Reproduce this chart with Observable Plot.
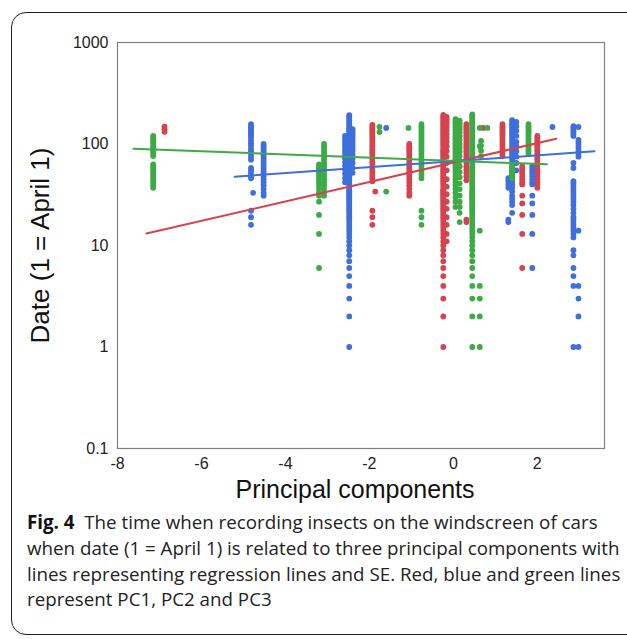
<!DOCTYPE html>
<html>
<head>
<meta charset="utf-8">
<script src="https://cdn.jsdelivr.net/npm/d3@7"></script>
<script src="https://cdn.jsdelivr.net/npm/@observablehq/plot@0.6"></script>
<style>
  html, body { margin: 0; padding: 0; background: #fff; }
  #page { position: relative; width: 627px; height: 639px; overflow: hidden; }
  #box { position: absolute; left: 11px; top: 12px; width: 700px; height: 623px;
         border: 1.5px solid #222; border-radius: 15px 0 0 15px; box-sizing: border-box; }
  #chart { position: absolute; left: 0; top: 0; }
  #caption { position: absolute; left: 27px; top: 509px; font-family: "Open Sans", "Noto Sans", sans-serif;
             font-size: 17px; line-height: 25.8px; color: #222; white-space: nowrap; }
  #caption span { display: inline-block; }
  #caption b { font-weight: 700; color: #111; }
</style>
</head>
<body>
<div id="page">
  <div id="box"></div>
  <div id="chart"></div>
  <div id="caption"><span id="cap1"><b>Fig. 4</b>&nbsp; The time when recording insects on the windscreen of cars</span><br>when date (1 = April 1) is related to three principal components with<br>lines representing regression lines and SE. Red, blue and green lines<br>represent PC1, PC2 and PC3</div>
</div>
<script>
// ---- series names & colours
const pcNames = ["PC1", "PC2", "PC3"];
const pcColors = ["#d6434f", "#3e6fdc", "#3dab45"];

// ---- axis ticks
const xTicks = [-8, -6, -4, -2, 0, 2];
const yTicks = [0.1, 1, 10, 100, 1000];

// ---- PC1 (red) strips: [principal component score, dates]
const pc1Strips = [
  [-6.88, [148, 140, 132]],
  [-1.93, [154, 148, 142, 136, 130, 124, 118, 112, 106, 100, 95, 90, 86, 82, 78, 74, 70, 66, 62, 58, 55, 52, 49, 46, 43, 22, 19, 16]],
  [-1.86, [34]],
  [-1.05, [100, 96, 92, 88, 84, 80, 76, 72, 68, 64, 60, 57, 54, 51, 48, 45, 42, 39, 36, 33, 31]],
  [-0.24, [193, 186, 179, 172, 166, 160, 154, 148, 142, 137, 132, 127, 122, 117, 112, 108, 104, 100, 96, 92, 88, 85, 82, 79, 76, 73, 70, 67, 64, 61, 58, 56, 54, 52, 50, 48, 46, 44, 42, 40, 38, 36, 35, 34, 33, 32, 31, 30, 29, 28, 27, 26, 25, 24, 23, 22, 21, 20, 19, 18, 17, 16, 15, 14, 13, 12, 11, 10, 9, 8, 7, 6, 5, 4, 3, 2, 1]],
  [-0.16, [185, 175, 165, 155, 145, 135, 125, 115, 105, 95, 85, 75, 65, 55, 45, 38, 32, 27, 23, 19, 16, 13, 11]],
  [0.31, [157, 150, 143, 136, 130, 124, 118, 112, 106, 100, 95, 90, 85, 80, 75, 70, 65, 60, 56, 52, 48, 44, 18, 17]],
  [0.71, [144]],
  [1.17, [157, 150, 143, 136, 130, 124, 118, 112, 106, 100, 95, 90, 85, 80, 76]],
  [1.64, [60, 57, 54, 51, 48, 45, 42, 40, 31, 26, 20, 13, 6]],
  [2.0, [120, 115, 110, 105, 100, 96, 92, 88, 84, 80, 76, 72, 68, 64, 60, 57, 54, 51, 48, 45, 42, 40, 37]]
];

// ---- PC2 (blue) strips
const pc2Strips = [
  [-4.82, [157, 151, 145, 139, 133, 127, 121, 115, 108, 102, 96, 90, 85, 80, 75, 70, 58, 55, 52, 49, 46, 22, 19, 16]],
  [-4.77, [33]],
  [-4.52, [100, 96, 92, 88, 84, 80, 76, 72, 68, 64, 60, 57, 54, 51, 48, 45, 42, 39, 36, 33, 31]],
  [-2.48, [192, 185, 178, 171, 165, 159, 153, 147, 141, 136, 131, 126, 121, 116, 111, 107, 103, 99, 95, 91, 87, 84, 81, 78, 75, 72, 69, 66, 63, 60, 57, 55, 53, 51, 49, 47, 45, 43, 41, 39, 37, 35, 34, 33, 32, 31, 30, 29, 28, 27, 26, 25, 24, 23, 22, 21, 20, 19, 18, 17, 16, 15, 14, 13, 12, 11, 10, 9, 8, 7, 6, 5, 4, 3, 2, 1]],
  [-2.58, [120, 112, 104, 97, 90, 84, 78, 72, 66, 61, 56, 51, 46, 42]],
  [-2.40, [140, 132, 124, 116, 108, 100, 93, 86, 79, 72, 65, 58, 52]],
  [-1.60, [144]],
  [1.31, [46, 43, 40, 37, 18, 17]],
  [1.40, [172, 165, 158, 151, 145, 139, 133, 127, 121, 115, 110, 105, 100, 95, 90, 86, 82, 78, 74, 70, 66, 62, 58, 55, 52, 49, 46, 43, 40, 37, 34, 31, 29, 27, 25, 21]],
  [1.50, [165, 150, 135, 120, 105, 95, 85, 75, 65, 55]],
  [1.88, [60, 57, 54, 51, 48, 45, 42, 40, 31, 26, 20, 13, 6]],
  [2.36, [147]],
  [2.86, [150, 144, 138, 132, 126, 120, 65, 58, 43, 41, 39, 37, 35, 33, 31, 29, 27, 25, 23, 21, 19, 18, 17, 16, 15, 14, 13, 12, 9, 8, 6, 5, 4, 1]],
  [2.98, [147, 110, 104, 98, 92, 86, 80, 75, 14, 4, 3, 2, 1]]
];

// ---- PC3 (green) strips
const pc3Strips = [
  [-7.15, [120, 115, 110, 105, 100, 96, 92, 88, 84, 80, 76, 63, 60, 57, 54, 51, 48, 45, 42, 39, 37]],
  [-3.08, [100, 95, 90, 85, 80, 76, 72, 68, 64, 60, 57, 54, 51, 48, 45, 42, 39, 36, 33, 31]],
  [-3.20, [63, 60, 57, 54, 51, 48, 45, 42, 39, 36, 33, 31, 27, 20, 13, 6]],
  [-1.76, [147, 131]],
  [-1.60, [34]],
  [-1.07, [144]],
  [-0.76, [157, 150, 143, 136, 130, 124, 118, 112, 106, 100, 95, 90, 85, 80, 75, 70, 66, 62, 58, 54, 50, 46, 22, 19, 16]],
  [0.05, [176, 168, 160, 152, 145, 138, 131, 125, 119, 113, 107, 101, 96, 91, 86, 81, 76, 72, 68, 64, 60, 56, 52, 48, 45, 42, 39, 36, 33, 30, 27, 24]],
  [0.15, [170, 160, 150, 140, 130, 120, 110, 100, 92, 84, 76, 68, 60, 53, 47, 41, 36, 31, 27, 24, 21, 17]],
  [0.45, [196, 188, 181, 174, 167, 161, 155, 149, 143, 138, 133, 128, 123, 118, 113, 109, 105, 101, 97, 93, 89, 86, 83, 80, 77, 74, 71, 68, 65, 62, 59, 57, 55, 53, 51, 49, 47, 45, 43, 41, 39, 37, 35, 34, 33, 32, 31, 30, 29, 28, 27, 26, 25, 24, 23, 22, 21, 20, 19, 18, 17, 16, 15, 14, 13, 12, 11, 10, 9, 8, 7, 6, 5, 4, 3, 2, 1]],
  [0.63, [144, 95, 14, 4, 3, 2, 1]],
  [0.66, [107, 96, 86, 76]],
  [0.81, [144]],
  [1.40, [60, 57, 54, 51, 48, 46]],
  [1.79, [157, 150, 143, 136, 130, 124, 118, 112, 106, 100, 95, 90, 85, 80]]
];

// ---- regression lines (end points)
const regPC = ["PC1", "PC2", "PC3"];
const regX0 = [-7.31, -5.21, -7.62];
const regY0 = [13.1, 47.6, 89.9];
const regX1 = [2.45, 3.36, 2.23];
const regY1 = [112.8, 84.7, 63.1];

// ---- build tables
const points = [];
[pc1Strips, pc2Strips, pc3Strips].forEach((strips, i) => {
  for (const [x, vals] of strips) for (const v of vals) points.push({pc: pcNames[i], x, y: v});
});
const regRows = [];
regPC.forEach((pc, i) => {
  regRows.push({pc, x: regX0[i], y: regY0[i]});
  regRows.push({pc, x: regX1[i], y: regY1[i]});
});

const chart = Plot.plot({
  width: 627,
  height: 515,
  marginLeft: 117,
  marginRight: 23,
  marginTop: 42,
  marginBottom: 67,
  style: {fontFamily: "'Liberation Sans', Arial, sans-serif", fontSize: "16px", background: "transparent", color: "#222"},
  x: {domain: [-8, 3.6]},
  y: {type: "log", domain: [0.1, 1000]},
  color: {domain: pcNames, range: pcColors},
  marks: [
    Plot.frame({stroke: "#808080", strokeWidth: 1.2}),
    Plot.axisX({ticks: xTicks, tickFormat: d => String(d), tickSize: 0, tickPadding: 9, label: null, fontSize: 16}),
    Plot.axisY({ticks: yTicks, tickFormat: d => String(d), tickSize: 0, tickPadding: 9, label: null, fontSize: 16}),
    Plot.dot(points, {x: "x", y: "y", fill: "pc", r: 2.9}),
    Plot.line(regRows, {x: "x", y: "y", z: "pc", stroke: "pc", strokeWidth: 2}),
    Plot.text(["Principal components"], {frameAnchor: "bottom", dy: 49, dx: -6, fontSize: 25, fill: "#111"}),
    Plot.text(["Date (1 = April 1)"], {frameAnchor: "left", textAnchor: "middle", dx: -77, rotate: -90, fontSize: 26, fill: "#111"})
  ]
});
document.getElementById("chart").appendChild(chart);

// fit the caption's first line to the figure width
const cap = document.getElementById("caption");
const w1 = document.getElementById("cap1").getBoundingClientRect().width;
if (w1 > 0) cap.style.fontSize = (17 * 571 / w1).toFixed(2) + "px";
</script>
</body>
</html>
